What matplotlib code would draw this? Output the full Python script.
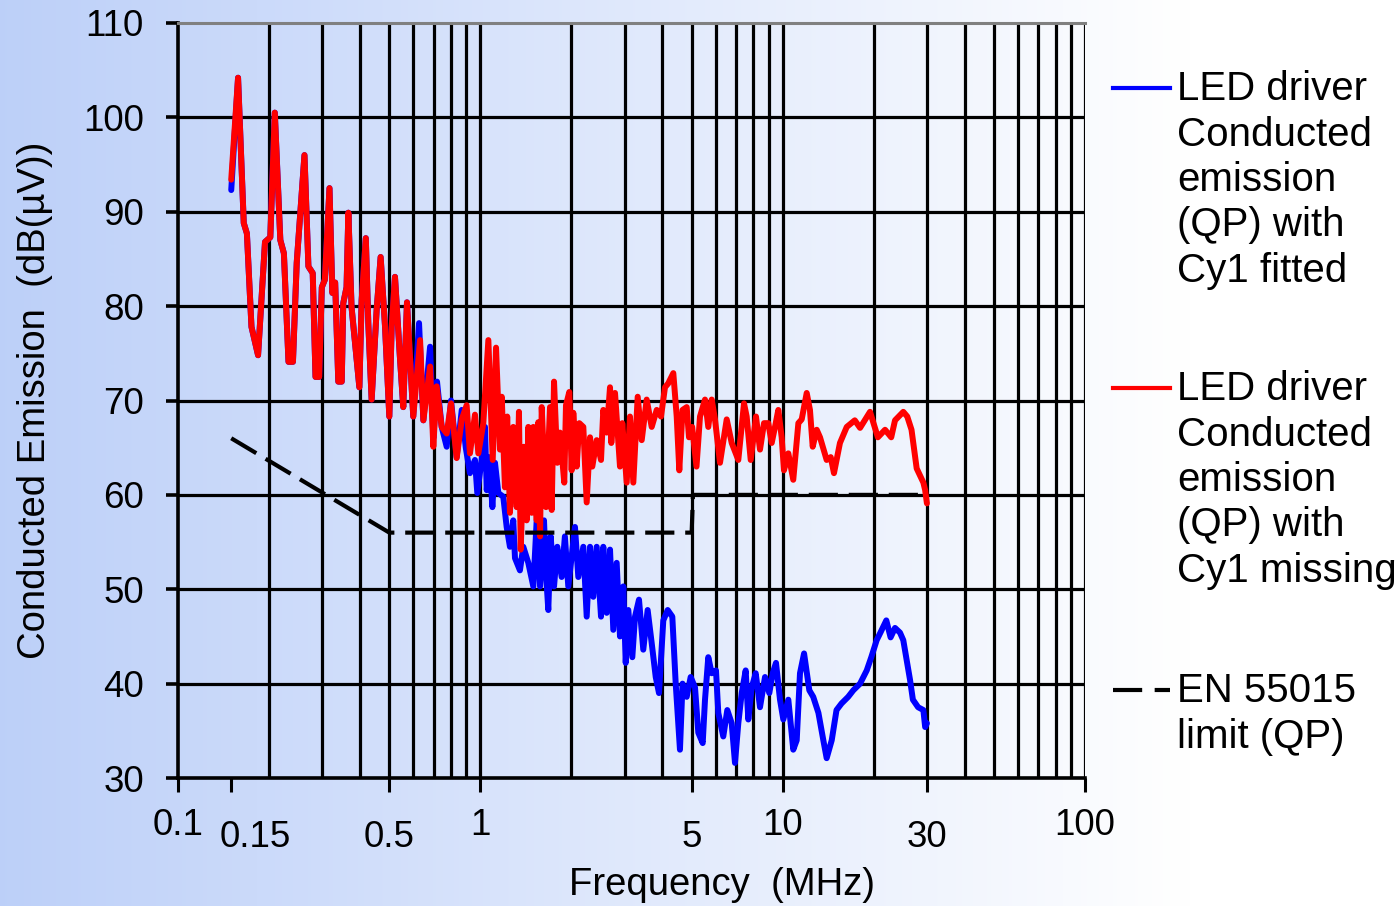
import numpy as np
import matplotlib
matplotlib.use("Agg")
import matplotlib.pyplot as plt
import matplotlib.transforms as mtransforms
from matplotlib.lines import Line2D

plt.rcParams["font.family"] = ["Liberation Sans", "DejaVu Sans"]

# ---- data (frequency in MHz, level in dB(uV)) ----
shared_f = [0.158, 0.165, 0.169, 0.175, 0.184, 0.194, 0.202, 0.209, 0.218, 0.224,
            0.232, 0.240, 0.247, 0.262, 0.270, 0.279, 0.285, 0.293, 0.299, 0.306,
            0.317, 0.324, 0.331, 0.339, 0.348, 0.352, 0.361, 0.366, 0.375, 0.398,
            0.405, 0.418, 0.426, 0.437, 0.454, 0.468, 0.484, 0.500, 0.509, 0.522,
            0.542, 0.556]
shared_db = [104.2, 88.8, 87.7, 77.8, 74.8, 86.8, 87.3, 100.5, 87.0, 85.6,
             74.1, 74.1, 84.6, 96.0, 84.2, 83.5, 72.5, 72.5, 82.0, 82.8,
             92.5, 81.4, 82.5, 72.0, 72.0, 80.3, 82.0, 89.9, 79.9, 71.4,
             80.6, 87.2, 78.2, 70.1, 79.6, 85.2, 77.8, 68.3, 77.8, 83.1,
             74.6, 69.3]

red_f = [0.150] + shared_f + [
    0.572, 0.600, 0.632, 0.648, 0.682, 0.699, 0.717, 0.745, 0.774, 0.800,
    0.835, 0.868, 0.901, 0.924, 0.960, 0.985, 1.023, 1.063, 1.099, 1.127,
    1.161, 1.177, 1.206, 1.227, 1.253, 1.285, 1.319, 1.342, 1.360, 1.394,
    1.423, 1.441, 1.479, 1.497, 1.536, 1.555, 1.576, 1.596, 1.649, 1.700,
    1.722, 1.753, 1.797, 1.834, 1.895, 1.920, 1.969, 2.005, 2.030, 2.083,
    2.125, 2.191, 2.248, 2.306, 2.346, 2.426, 2.507, 2.551, 2.618, 2.685,
    2.711, 2.789, 2.897, 2.948, 3.049, 3.126, 3.206, 3.315, 3.418, 3.550,
    3.688, 3.832, 3.959, 4.081, 4.181, 4.348, 4.462, 4.551, 4.664, 4.815,
    4.900, 5.019, 5.188, 5.328, 5.535, 5.675, 5.825, 5.973, 6.204, 6.530,
    6.783, 7.133, 7.450, 7.602, 7.840, 8.161, 8.414, 8.676, 8.964, 9.199,
    9.433, 9.674, 9.925, 10.10, 10.44, 10.84, 11.27, 11.56, 12.01, 12.31,
    12.57, 12.96, 13.29, 13.98, 14.42, 14.78, 15.47, 16.29, 17.32, 18.03,
    19.45, 20.65, 21.81, 22.86, 23.53, 25.06, 25.83, 26.68, 27.75, 29.2,
    29.6, 30.0]
red_db = [93.4] + shared_db + [
    80.4, 68.3, 76.4, 67.9, 73.6, 65.1, 71.5, 67.2, 66.5, 69.7,
    63.9, 68.0, 69.5, 64.4, 68.5, 64.4, 67.6, 76.4, 63.7, 75.6,
    64.8, 70.4, 60.8, 68.3, 58.1, 67.2, 58.7, 68.8, 54.2, 65.1,
    57.3, 67.2, 58.1, 67.2, 57.3, 67.7, 55.6, 69.3, 58.7, 69.3,
    58.4, 72.0, 63.4, 66.6, 61.3, 69.5, 70.9, 62.6, 68.7, 63.0,
    67.6, 67.2, 59.2, 66.1, 63.0, 65.8, 63.7, 69.0, 66.6, 71.4,
    65.5, 70.8, 63.0, 67.6, 61.3, 68.3, 61.3, 70.4, 65.8, 70.1,
    67.2, 69.0, 68.3, 71.4, 71.8, 72.9, 68.3, 62.6, 69.0, 69.3,
    66.1, 67.2, 63.0, 68.3, 70.1, 67.2, 70.1, 68.0, 63.4, 68.0,
    65.5, 63.7, 69.7, 68.3, 63.7, 68.3, 64.8, 67.6, 67.6, 65.5,
    67.2, 69.0, 66.1, 62.6, 64.4, 61.6, 67.6, 68.0, 70.8, 69.0,
    65.1, 66.9, 66.1, 63.7, 64.0, 62.3, 65.5, 67.2, 67.9, 67.1,
    68.8, 66.1, 66.9, 66.1, 67.9, 68.8, 68.3, 66.9, 62.8, 61.3,
    60.5, 59.1]

blue_f = [0.150] + shared_f + [
    0.572, 0.600, 0.627, 0.648, 0.682, 0.699, 0.719, 0.745, 0.774, 0.800,
    0.835, 0.868, 0.895, 0.924, 0.960, 0.977, 1.010, 1.036, 1.050, 1.071,
    1.096, 1.118, 1.147, 1.191, 1.222, 1.253, 1.285, 1.302, 1.352, 1.387,
    1.441, 1.497, 1.536, 1.576, 1.624, 1.649, 1.678, 1.709, 1.753, 1.797,
    1.858, 1.904, 1.954, 2.056, 2.109, 2.191, 2.248, 2.306, 2.364, 2.426,
    2.507, 2.551, 2.618, 2.685, 2.753, 2.825, 2.897, 2.971, 3.026, 3.086,
    3.182, 3.248, 3.348, 3.459, 3.576, 3.688, 3.803, 3.899, 4.029, 4.166,
    4.315, 4.428, 4.574, 4.664, 4.815, 4.963, 5.129, 5.260, 5.439, 5.535,
    5.675, 5.825, 6.018, 6.125, 6.361, 6.559, 6.783, 6.955, 7.133, 7.320,
    7.545, 7.698, 7.900, 8.144, 8.414, 8.742, 9.033, 9.270, 9.505, 9.799,
    10.05, 10.44, 10.84, 11.13, 11.41, 11.77, 12.25, 12.62, 13.13, 13.63,
    13.98, 14.53, 15.07, 15.66, 16.47, 17.13, 18.03, 18.97, 19.64, 20.46,
    21.05, 22.02, 22.75, 23.53, 24.44, 25.06, 25.72, 26.38, 26.96, 28.05,
    29.2, 29.6, 30.0]
blue_db = [92.3] + shared_db + [
    80.4, 68.3, 78.2, 67.9, 75.7, 66.0, 72.0, 67.2, 65.1, 70.0,
    64.0, 69.0, 65.0, 62.3, 63.7, 60.2, 63.7, 67.2, 60.5, 64.0,
    58.7, 63.4, 60.2, 59.8, 56.6, 54.5, 57.3, 53.3, 52.0, 54.5,
    52.8, 50.3, 57.3, 50.3, 57.3, 51.7, 47.8, 55.6, 50.3, 54.5,
    51.3, 55.6, 50.3, 56.6, 51.3, 54.5, 47.1, 54.5, 49.2, 54.5,
    47.1, 54.5, 47.5, 54.2, 45.7, 52.8, 45.0, 50.3, 42.2, 47.8,
    42.8, 47.1, 48.9, 43.6, 47.8, 44.3, 40.7, 39.0, 46.7, 47.8,
    47.1, 40.0, 33.0, 40.0, 38.6, 40.7, 39.6, 34.8, 33.7, 38.3,
    42.8, 41.1, 41.4, 36.9, 34.4, 37.2, 35.8, 31.6, 35.8, 39.0,
    41.4, 36.2, 39.6, 41.1, 37.5, 40.7, 39.0, 41.1, 42.2, 38.3,
    36.2, 38.3, 33.0, 34.0, 41.1, 43.2, 39.3, 38.6, 36.9, 34.0,
    32.1, 34.0, 37.2, 37.9, 38.6, 39.3, 40.0, 41.4, 42.8, 44.6,
    45.4, 46.7, 44.9, 45.9, 45.4, 44.6, 42.5, 40.4, 38.3, 37.5,
    37.2, 35.4, 35.8]

limit_f = [0.15, 0.5, 5.0, 5.05, 30.0]
limit_db = [66, 56, 56, 60, 60]

tick_f = [0.1, 0.15, 0.5, 1, 5, 10, 30, 100]
tick_labels = ["0.1", "0.15", "0.5", "1", "5", "10", "30", "100"]
grid_f = [0.2, 0.3, 0.4, 0.5, 0.6, 0.7, 0.8, 0.9, 1, 2, 3, 4, 5, 6, 7, 8, 9,
          10, 20, 30, 40, 50, 60, 70, 80, 90, 100]
y_ticks = [30, 40, 50, 60, 70, 80, 90, 100, 110]

legend_texts = [
    "LED driver\nConducted\nemission\n(QP) with\nCy1 fitted",
    "LED driver\nConducted\nemission\n(QP) with\nCy1 missing",
    "EN 55015\nlimit (QP)",
]

# ---- figure ----
W, H = 1399, 906
fig = plt.figure(figsize=(W / 100, H / 100), dpi=100)

# background gradient (light blue -> white)
bg = fig.add_axes([0, 0, 1, 1], zorder=-10)
t = np.clip(np.linspace(0, 1, 600) / 0.85, 0, 1)
left = np.array([0.74, 0.815, 0.975])
grad = left[None, :] + (1 - left[None, :]) * t[:, None]
bg.imshow(grad[None, :, :], aspect="auto", extent=[0, 1, 0, 1])
bg.set_axis_off()

ax = fig.add_axes([178 / W, 1 - 778 / H, 907 / W, 755 / H])
ax.set_facecolor("none")
ax.set_xscale("log")
ax.set_xlim(0.1, 100)
ax.set_ylim(30, 110)

for g in grid_f:
    ax.axvline(g, color="black", lw=2.3, zorder=1)
for yv in y_ticks[1:-1]:
    ax.axhline(yv, color="black", lw=2.3, zorder=1)

ax.plot(blue_f, blue_db, color="#0000ff", lw=4.3, zorder=3,
        solid_joinstyle="round", solid_capstyle="round")
ax.plot(red_f, red_db, color="#ff0000", lw=4.3, zorder=4,
        solid_joinstyle="round", solid_capstyle="round")
ax.plot(limit_f, limit_db, color="black", lw=3.0, zorder=5,
        dashes=(7, 2.6))

ax.spines["left"].set_linewidth(2.6)
ax.spines["bottom"].set_linewidth(2.6)
ax.spines["right"].set_visible(False)
ax.spines["top"].set_color("#808080")
ax.spines["top"].set_linewidth(2.2)

ax.set_xticks(tick_f)
ax.set_xticklabels(tick_labels)
ax.xaxis.set_minor_locator(matplotlib.ticker.NullLocator())
ax.set_yticks(y_ticks)
ax.tick_params(axis="x", direction="out", length=10, width=2.2, labelsize=26.5)
ax.tick_params(axis="y", direction="out", length=8.6, width=2.6, pad=16,
               labelsize=26.5)

for tk, lab in zip(ax.xaxis.get_major_ticks(), tick_labels):
    if lab in ("0.15", "0.5", "5", "30"):
        tk.set_pad(20)
    else:
        tk.set_pad(11.5)
# the 0.15 label sits to the right of its tick in the original
lab015 = ax.get_xticklabels()[1]
lab015.set_transform(lab015.get_transform() +
                     mtransforms.ScaledTranslation(24 / 100, 0, fig.dpi_scale_trans))

ax.set_xlabel("Frequency  (MHz)", fontsize=27.5)
ax.xaxis.label.set_va("center")
ax.xaxis.set_label_coords((722 - 178) / 907, (778 - 885) / 755)
ax.set_ylabel("Conducted Emission  (dB(\u00b5V))", fontsize=27.5)
ax.yaxis.label.set_va("center")
ax.yaxis.set_label_coords((35 - 178) / 907, (778 - 400) / 755)

# ---- legend drawn at the right ----
handle_y = [88, 388, 690]
styles = [dict(color="#0000ff"), dict(color="#ff0000"),
          dict(color="black", dashes=(7, 3))]
for hy, txt, st in zip(handle_y, legend_texts, styles):
    fig.add_artist(Line2D([1113 / W, 1170 / W], [1 - hy / H, 1 - hy / H],
                          transform=fig.transFigure, lw=3, **st))
    fig.text(1177 / W, 1 - (hy - 18) / H, txt, fontsize=29, va="top",
             ha="left", linespacing=1.25)

fig.savefig("out.png", dpi=100)
plt.close(fig)
